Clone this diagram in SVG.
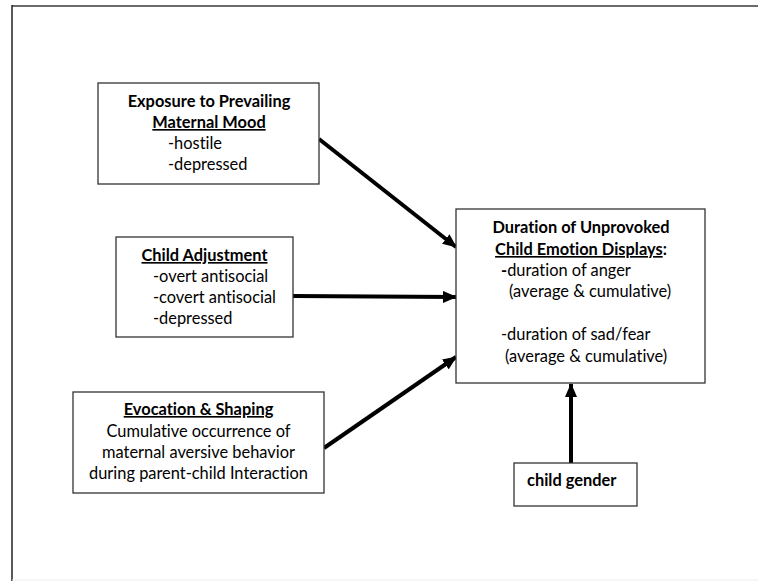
<svg xmlns="http://www.w3.org/2000/svg" width="758" height="581" viewBox="0 0 758 581">
<defs>
<marker id="ah" markerUnits="userSpaceOnUse" markerWidth="14" markerHeight="12" refX="13" refY="6" orient="auto">
<path d="M0,0 L14,6 L0,12 Z" fill="#000"/>
</marker>
<style>
.box{fill:#fff;stroke:#333;stroke-width:1.3}
text{font-family:Lato,"Liberation Sans",sans-serif;font-size:16.4px;fill:#000;font-variant-ligatures:none}
.b{font-weight:bold}
.c{text-anchor:middle}
.u{text-decoration:underline}
.conn{stroke:#000;stroke-width:4;fill:none;marker-end:url(#ah)}
</style>
</defs>
<rect width="758" height="581" fill="#fff"/>
<g id="frame">
<line x1="12" y1="6" x2="758" y2="6" stroke="#6b6b6b" stroke-width="2"/>
<line x1="12" y1="5" x2="12" y2="581" stroke="#222" stroke-width="1.5"/>
<line x1="12" y1="580" x2="758" y2="580" stroke="#eee" stroke-width="1"/>
</g>
<g id="connectors">
<line class="conn" x1="319" y1="139" x2="456" y2="247"/>
<line class="conn" x1="293" y1="296" x2="456" y2="297"/>
<line class="conn" x1="324" y1="448" x2="456" y2="357"/>
<line class="conn" x1="571" y1="463" x2="571" y2="384"/>
</g>
<g id="maternal-mood">
<rect class="box" x="98" y="83" width="221" height="101"/>
<text class="b c" x="209" y="107">Exposure to Prevailing</text>
<text class="b c u" x="209" y="128">Maternal Mood</text>
<text x="168" y="149">-hostile</text>
<text x="168" y="170">-depressed</text>
</g>
<g id="child-adjustment">
<rect class="box" x="116" y="237" width="177" height="100"/>
<text class="b c u" x="204.5" y="261">Child Adjustment</text>
<text x="153" y="282">-overt antisocial</text>
<text x="153" y="303">-covert antisocial</text>
<text x="153" y="324">-depressed</text>
</g>
<g id="evocation">
<rect class="box" x="73" y="392" width="251" height="101"/>
<text class="b c u" x="198.5" y="415">Evocation &amp; Shaping</text>
<text class="c" x="198.5" y="437">Cumulative occurrence of</text>
<text class="c" x="198.5" y="458">maternal aversive behavior</text>
<text class="c" x="198.5" y="479">during parent-child Interaction</text>
</g>
<g id="duration">
<rect class="box" x="456" y="209" width="249" height="174"/>
<text class="b c" x="581" y="233">Duration of Unprovoked</text>
<text class="b c" x="581" y="255"><tspan class="u">Child Emotion Displays</tspan>:</text>
<text x="501" y="276"><tspan class="b">-</tspan>duration of anger</text>
<text x="509" y="297">(average &amp; cumulative)</text>
<text x="501" y="340">-duration of sad/fear</text>
<text x="505" y="362">(average &amp; cumulative)</text>
</g>
<g id="child-gender">
<rect class="box" x="514" y="463" width="123" height="43"/>
<text class="b" x="527" y="486">child gender</text>
</g>
</svg>
